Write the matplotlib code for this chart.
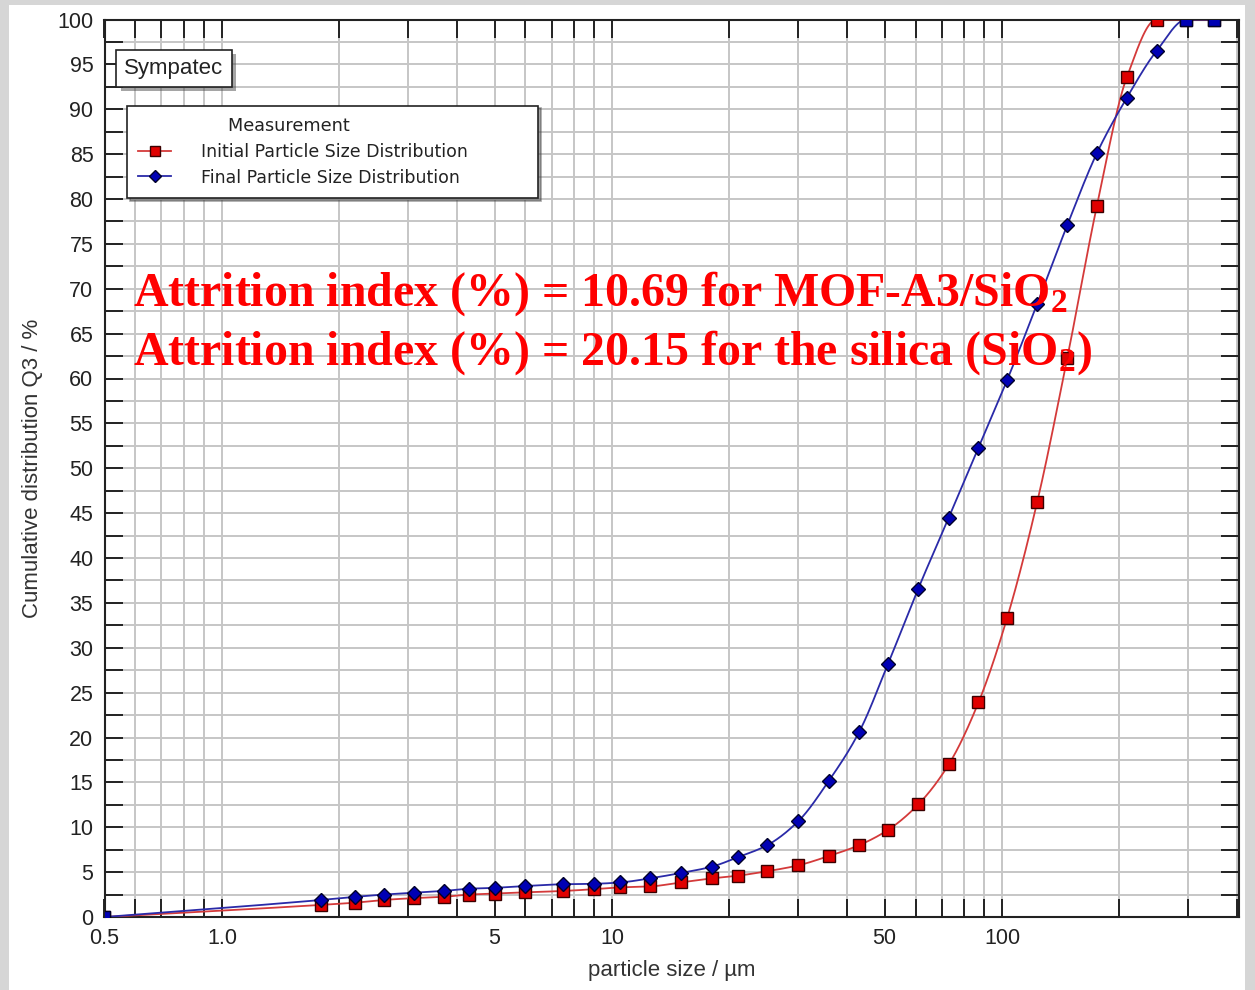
import numpy as np
import matplotlib
matplotlib.use("Agg")
import matplotlib.pyplot as plt
from matplotlib.patches import Rectangle
from matplotlib.lines import Line2D
from matplotlib.ticker import FixedLocator, FixedFormatter, NullFormatter
import matplotlib.patheffects as pe

plt.rcParams['font.family'] = ['Liberation Sans', 'DejaVu Sans']
plt.rcParams['mathtext.fontset'] = 'custom'
plt.rcParams['mathtext.rm'] = 'Liberation Serif:bold'
plt.rcParams['mathtext.it'] = 'Liberation Serif:bold'
plt.rcParams['mathtext.bf'] = 'Liberation Serif:bold'

# size classes (um) and cumulative Q3 (%)
sizes = [0.5, 1.8, 2.2, 2.6, 3.1, 3.7, 4.3, 5.0, 6.0, 7.5, 9.0, 10.5, 12.5, 15, 18,
         21, 25, 30, 36, 43, 51, 61, 73, 87, 103, 123, 147, 175, 209, 249, 297, 350]
q3_initial = [0, 1.35, 1.6, 1.9, 2.1, 2.25, 2.5, 2.6, 2.75, 2.9, 3.1, 3.3, 3.4, 3.85, 4.3,
              4.6, 5.1, 5.75, 6.8, 8.0, 9.7, 12.55, 17.0, 23.9, 33.3, 46.2, 62.3, 79.2,
              93.6, 100, 100, 100]
q3_final = [0, 1.9, 2.25, 2.5, 2.7, 2.9, 3.15, 3.25, 3.45, 3.65, 3.7, 3.85, 4.3, 4.9, 5.6,
            6.65, 8.0, 10.65, 15.2, 20.6, 28.2, 36.6, 44.5, 52.3, 59.8, 68.3, 77.1, 85.1,
            91.3, 96.5, 100, 100]

x_major = [0.5, 1.0, 5, 10, 50, 100]
x_major_labels = ['0.5', '1.0', '5', '10', '50', '100']
x_minor = [0.6, 0.7, 0.8, 0.9, 2, 3, 4, 6, 7, 8, 9, 20, 30, 40, 60, 70, 80, 90, 200, 300, 400]

series_names = ['Initial Particle Size Distribution', 'Final Particle Size Distribution']
notes = [r'Attrition index (%) = 10.69 for MOF-A3/$\mathrm{SiO_2}$',
         r'Attrition index (%) = 20.15 for the silica ($\mathrm{SiO_2}$)']


def pchip(x, y, xn):
    # monotone cubic through the points (Fritsch-Carlson)
    x = np.asarray(x, float)
    y = np.asarray(y, float)
    h = np.diff(x)
    d = np.diff(y) / h
    m = np.zeros_like(y)
    m[0] = d[0]
    m[-1] = d[-1]
    for k in range(1, len(x) - 1):
        if d[k - 1] * d[k] > 0:
            w1 = 2 * h[k] + h[k - 1]
            w2 = h[k] + 2 * h[k - 1]
            m[k] = (w1 + w2) / (w1 / d[k - 1] + w2 / d[k])
    i = np.clip(np.searchsorted(x, xn) - 1, 0, len(x) - 2)
    t = (xn - x[i]) / h[i]
    h00 = 2 * t**3 - 3 * t**2 + 1
    h10 = t**3 - 2 * t**2 + t
    h01 = -2 * t**3 + 3 * t**2
    h11 = t**3 - t**2
    return h00 * y[i] + h10 * h[i] * m[i] + h01 * y[i + 1] + h11 * h[i] * m[i + 1]


fig = plt.figure(figsize=(12.55, 9.9), dpi=100)
fig.patch.set_facecolor('#d6d6d6')
fig.add_artist(Rectangle((9 / 1255, 0), 1236 / 1255, 985 / 990, transform=fig.transFigure,
                         facecolor='white', edgecolor='none', zorder=0))

ax = fig.add_axes([104.5 / 1255, 73 / 990, 1134.5 / 1255, 897.5 / 990])
ax.set_xscale('log')
ax.set_xlim(0.5, 405)
ax.set_ylim(0, 100)

lx = np.log10(sizes)
xs = np.linspace(lx[0], lx[-1], 1200)

styles = [
    dict(data=q3_initial, line='#d43a3a', fc='#e00000', ec='#3a0000', marker='s', ms=8),
    dict(data=q3_final, line='#2a2aa8', fc='#0000b4', ec='#00002a', marker='D', ms=7.5),
]
handles = []
for st, name in zip(styles, series_names):
    yv = np.asarray(st['data'], float)
    ax.plot(10**xs, pchip(lx, yv, xs), color=st['line'], lw=1.3, zorder=3)
    inner = (yv > 0) & (yv < 100)
    ax.plot(np.asarray(sizes)[inner], yv[inner], ls='none', marker=st['marker'],
            ms=st['ms'], mfc=st['fc'], mec=st['ec'], mew=1.0, zorder=4)
    ax.plot(np.asarray(sizes)[~inner], yv[~inner], ls='none', marker='s',
            ms=8, mfc=st['fc'], mec=st['ec'], mew=1.0, zorder=4)
    handles.append(Line2D([], [], color=st['line'], lw=1.3, marker=st['marker'],
                          ms=st['ms'] - 1.5, mfc=st['fc'], mec=st['ec']))

# axes, ticks and grid
ax.xaxis.set_major_locator(FixedLocator(x_major))
ax.xaxis.set_major_formatter(FixedFormatter(x_major_labels))
ax.xaxis.set_minor_locator(FixedLocator(x_minor))
ax.xaxis.set_minor_formatter(NullFormatter())
ax.set_yticks(np.arange(0, 101, 5))
ax.set_yticks(np.arange(2.5, 100, 5), minor=True)
ax.grid(True, which='both', color='#c6c6c6', lw=1.4, zorder=1)
ax.set_axisbelow(True)
ax.tick_params(which='both', direction='in', top=True, right=True, length=13,
               width=1.4, color='#222222', labelsize=15.5, labelcolor='#222222')
ax.tick_params(axis='x', pad=8)
ax.tick_params(axis='y', pad=8)
for sp in ax.spines.values():
    sp.set_color('#222222')
    sp.set_linewidth(1.5)

ax.set_xlabel('particle size / µm', fontsize=16, color='#333333', labelpad=8)
ax.set_ylabel('Cumulative distribution Q3 / %', fontsize=16, color='#333333', labelpad=10)

# Sympatec tag
tag = ax.text(0.0175, 0.9454, 'Sympatec', transform=ax.transAxes, fontsize=16,
              color='#222222', va='center', ha='left', zorder=6,
              bbox=dict(boxstyle='square,pad=0.36', fc='white', ec='#222222', lw=1.2))
tag.get_bbox_patch().set_path_effects([pe.SimplePatchShadow(offset=(3, -3), alpha=0.5),
                                       pe.Normal()])

leg = ax.legend(handles, series_names, title=' ' * 16 + 'Measurement', loc='upper left',
                bbox_to_anchor=(0.0198, 0.804, 0.3625, 0.1), mode='expand',
                prop={'family': 'DejaVu Sans', 'size': 12.5},
                title_fontproperties={'family': 'DejaVu Sans', 'size': 12.7},
                alignment='left',
                frameon=True, fancybox=False, shadow=True, edgecolor='#222222',
                handlelength=1.9, handletextpad=1.7, borderpad=0.65, labelspacing=0.45,
                borderaxespad=0)
leg.get_frame().set_linewidth(1.2)
for t in leg.get_texts():
    t.set_color('#222222')
leg.get_title().set_color('#222222')
leg.set_zorder(6)

# attrition notes
for note, yb in zip(notes, [0.681, 0.616]):
    ax.text(0.025, yb, note, transform=ax.transAxes, fontsize=34.5, color='#ff0000',
            family='Liberation Serif', fontweight='bold', va='baseline', ha='left', zorder=7)

fig.savefig('out.png', dpi=100, facecolor=fig.get_facecolor())
